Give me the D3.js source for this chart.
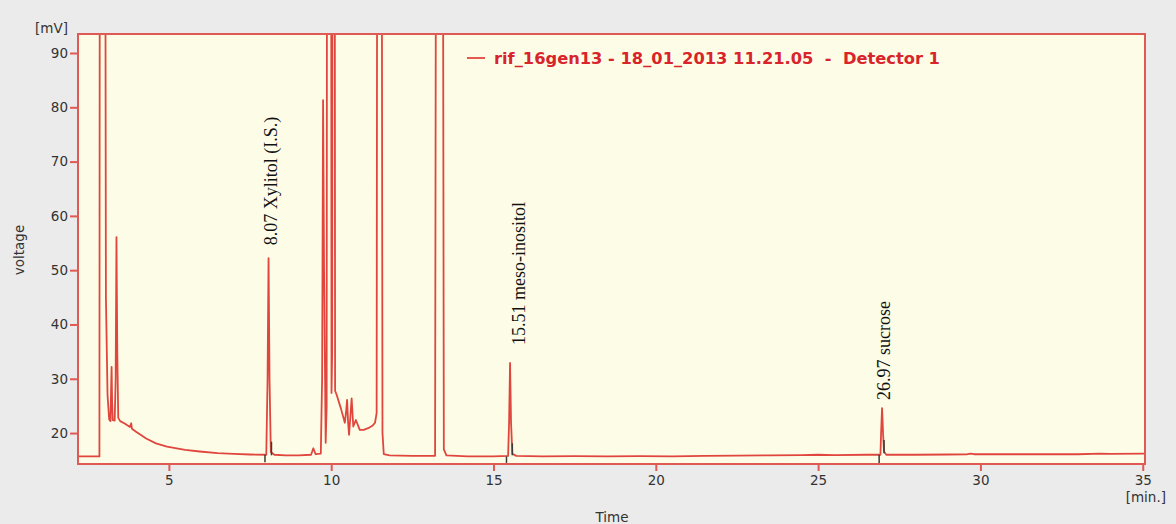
<!DOCTYPE html>
<html>
<head>
<meta charset="utf-8">
<script src="https://cdn.jsdelivr.net/npm/d3@7"></script>
<style>
  html, body { margin: 0; padding: 0; background: #ebebeb; }
  svg { display: block; }
</style>
</head>
<body>
<svg id="chart" width="1176" height="524"></svg>
<script>
// ---------- data ----------
const timeMin = [
  2.2, 2.86, 2.88, 3.02, 3.06, 3.11, 3.16, 3.20, 3.22, 3.235, 3.25, 3.27, 3.33, 3.36, 3.385, 3.41, 3.44, 3.50,
  3.65, 3.80, 3.84, 3.86, 4.0, 4.3, 4.6, 4.94, 5.5, 5.95, 6.5, 7.0, 7.5, 8.0, 8.04, 8.07, 8.10, 8.14, 8.25,
  8.6, 9.0, 9.38, 9.45, 9.52, 9.68, 9.72, 9.75, 9.78, 9.83, 9.86, 9.88, 9.99, 10.01, 10.03, 10.05, 10.10,
  10.12, 10.17, 10.30, 10.42, 10.46, 10.49, 10.52, 10.55, 10.59, 10.63, 10.68, 10.76, 10.88, 11.0, 11.14,
  11.28, 11.35, 11.40, 11.43, 11.54, 11.58, 11.62, 11.8, 12.5, 13.2, 13.25, 13.42, 13.47, 13.55, 14.2, 15.0,
  15.45, 15.48, 15.51, 15.54, 15.58, 15.7, 16.5, 17.5, 18.5, 19.5, 20.5, 21.5, 22.5, 23.5, 24.5, 25.0, 25.5,
  26.5, 26.92, 26.94, 26.97, 27.00, 27.03, 27.1, 28, 29, 29.6, 29.7, 29.8, 31, 32, 33, 33.7, 34, 35.07
];
const signalmV = [
  15.7, 15.7, 200, 200, 45, 27, 22.5, 22.2, 28, 32.2, 26, 22.4, 22.3, 30, 56.1, 35, 22.8, 22.2,
  21.7, 21.1, 21.8, 20.8, 20.2, 19.0, 18.1, 17.5, 16.9, 16.6, 16.3, 16.15, 16.05, 16.0, 30, 52.2, 30, 16.5, 16.0,
  15.9, 15.9, 16.0, 17.2, 16.1, 16.2, 30, 81.3, 50, 18.2, 25, 200, 200, 27.4, 35, 200, 200,
  27.8, 27.0, 24.5, 21.9, 24, 26.1, 22, 19.65, 23, 26.4, 21.2, 22.4, 20.6, 20.6, 20.9,
  21.4, 21.9, 23.7, 200, 200, 20, 16.1, 15.9, 15.8, 15.8, 200, 200, 17, 15.9, 15.7, 15.7,
  15.8, 22, 32.9, 22, 16.2, 15.8, 15.7, 15.75, 15.7, 15.75, 15.7, 15.8, 15.85, 15.9, 15.95, 16.0, 15.95,
  16.0, 16.0, 20, 24.6, 20, 16.6, 16.0, 16.0, 16.05, 16.1, 16.2, 16.1, 16.1, 16.1, 16.1, 16.2, 16.15, 16.2
];

// integration markers (start / end of integrated peaks)
const markerTime = [7.96, 8.16, 15.40, 15.58, 26.88, 27.03];
const markerFrom = [14.6, 18.4, 14.5, 18.1, 14.5, 18.7];
const markerTo   = [16.0, 15.9, 15.7, 15.9, 16.0, 16.3];

// peak annotations
const labelText  = ["8.07 Xylitol (I.S.)", "15.51 meso-inositol", "26.97 sucrose"];
const labelTime  = [8.16, 15.79, 27.03];
const labelValue = [54.6, 36.2, 26.1];

const xTicks = [5, 10, 15, 20, 25, 30, 35];
const yTicks = [20, 30, 40, 50, 60, 70, 80, 90];
const xDomain = [2.2, 35.07];
const yDomain = [14.3, 93.5];
const legendText = "rif_16gen13 - 18_01_2013 11.21.05  -  Detector 1";

// ---------- drawing ----------
const svg = d3.select("#chart");
const L = 78, R = 1145, T = 34, B = 464;
const RED = "#e0463e";
const BORDER = "#e05a55";

svg.append("rect").attr("width", 1176).attr("height", 524).attr("fill", "#ebebeb");

const x = d3.scaleLinear().domain(xDomain).range([L, R]);
const y = d3.scaleLinear().domain(yDomain).range([B, T]);

svg.append("rect").attr("x", L).attr("y", T).attr("width", R - L).attr("height", B - T)
  .attr("fill", "#fdfde7");

svg.append("clipPath").attr("id", "clip").append("rect")
  .attr("x", L).attr("y", T).attr("width", R - L).attr("height", B - T);

const pts = timeMin.map((t, i) => [t, signalmV[i]]);
const line = d3.line().x(d => x(d[0])).y(d => y(d[1]));

// annotations (behind trace)
const ann = svg.append("g").attr("clip-path", "url(#clip)");
labelText.forEach((txt, i) => {
  ann.append("text")
    .attr("transform", `translate(${x(labelTime[i])},${y(labelValue[i])}) rotate(-90)`)
    .attr("text-anchor", "start")
    .attr("dominant-baseline", "central")
    .attr("font-family", "'Liberation Serif', 'Times New Roman', serif")
    .attr("font-size", 18)
    .attr("fill", "#111")
    .text(txt);
});

svg.append("g").attr("clip-path", "url(#clip)")
  .append("path").datum(pts)
  .attr("d", line)
  .attr("fill", "none")
  .attr("stroke", RED)
  .attr("stroke-width", 1.8)
  .attr("stroke-linejoin", "round");

// integration markers
svg.append("g").selectAll("line").data(markerTime).join("line")
  .attr("x1", d => x(d)).attr("x2", d => x(d))
  .attr("y1", (d, i) => y(markerFrom[i])).attr("y2", (d, i) => y(markerTo[i]))
  .attr("stroke", "#3a3a3a").attr("stroke-width", 1.5);

// border
svg.append("rect").attr("x", L).attr("y", T).attr("width", R - L).attr("height", B - T)
  .attr("fill", "none").attr("stroke", BORDER).attr("stroke-width", 2);

// axes
const fontSans = "'DejaVu Sans', Verdana, sans-serif";
const yAxis = svg.append("g").attr("transform", `translate(${L},0)`)
  .call(d3.axisLeft(y).tickValues(yTicks).tickSize(8).tickPadding(2));
const xAxis = svg.append("g").attr("transform", `translate(0,${B})`)
  .call(d3.axisBottom(x).tickValues(xTicks).tickSize(7).tickPadding(4));
[yAxis, xAxis].forEach(g => {
  g.select(".domain").remove();
  g.selectAll(".tick line").attr("stroke", BORDER).attr("stroke-width", 2);
  g.selectAll(".tick text").attr("font-family", fontSans).attr("font-size", 13.5).attr("fill", "#333");
});

// axis titles
svg.append("text").attr("x", 35).attr("y", 33).attr("font-family", fontSans)
  .attr("font-size", 13.5).attr("fill", "#333").text("[mV]");
svg.append("text").attr("transform", "translate(24,250) rotate(-90)")
  .attr("text-anchor", "middle").attr("font-family", fontSans)
  .attr("font-size", 13.5).attr("fill", "#333").text("voltage");
svg.append("text").attr("x", 612).attr("y", 522).attr("text-anchor", "middle")
  .attr("font-family", fontSans).attr("font-size", 13.5).attr("fill", "#333").text("Time");
svg.append("text").attr("x", 1166).attr("y", 502).attr("text-anchor", "end")
  .attr("font-family", fontSans).attr("font-size", 13.5).attr("fill", "#333").text("[min.]");

// legend
svg.append("line").attr("x1", 467).attr("x2", 485).attr("y1", 58).attr("y2", 58)
  .attr("stroke", RED).attr("stroke-width", 1.8);
svg.append("text").attr("x", 494).attr("y", 64)
  .attr("font-family", fontSans).attr("font-weight", "bold")
  .attr("font-size", 16.3).attr("fill", "#d8242a")
  .attr("xml:space", "preserve").style("white-space", "pre")
  .text(legendText);
</script>
</body>
</html>
